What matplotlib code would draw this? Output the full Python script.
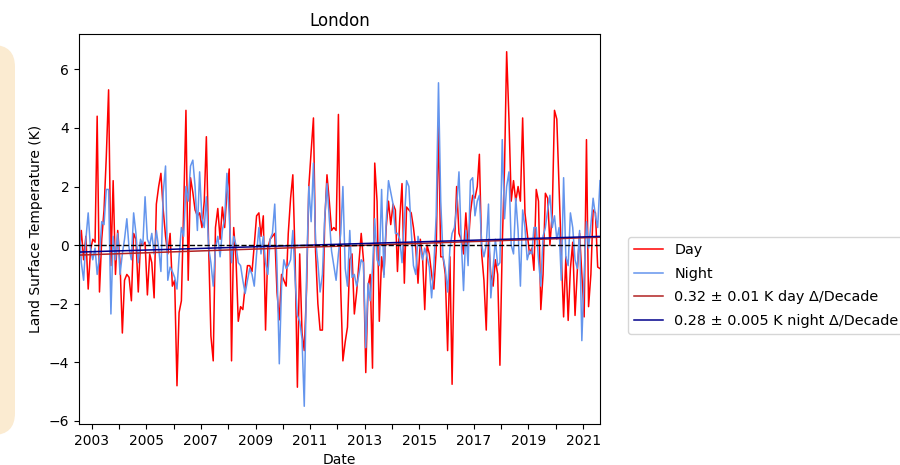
import numpy as np
import pandas as pd
import matplotlib
matplotlib.use("Agg")
import matplotlib.pyplot as plt
import matplotlib.dates as mdates
from matplotlib.patches import FancyBboxPatch

# Monthly land surface temperature anomalies (K), Jul 2002 - Aug 2021
start_month = "2002-07-01"
n_months = 230

day_anom = [
    -0.4, 0.5, -0.5, 0.3, -1.5, -0.2, 0.2, 0.1, 4.4, -1.6,
    0.2, 1.2, 3.0, 5.3, -0.7, 2.2, -1.0, 0.5, -0.6, -3.0,
    -1.2, -1.0, -1.1, -1.9, 0.4, 0.2, -1.6, 0.1, 0.0, 0.1,
    -1.7, -0.3, -0.6, -1.8, 1.4, 2.0, 2.45, 1.2, 0.3, -0.3,
    0.4, -1.4, -1.2, -4.8, -2.3, -1.9, 1.2, 4.6, -1.2, 2.3,
    1.8, 1.2, 1.0, 1.1, 0.6, 1.5, 3.7, -0.1, -3.1, -3.95,
    0.6, 1.25, 0.2, 1.3, 0.6, 1.8, 2.6, -3.95, 0.6, -0.5,
    -2.6, -2.1, -2.2, -1.4, -0.7, -0.7, -0.9, 0.0, 1.0, 1.1,
    0.3, 1.0, -2.9, -0.1, 0.2, 0.3, 0.4, -1.6, -2.55, -1.0,
    -1.2, -1.4, 0.4, 1.6, 2.4, -0.5, -4.85, -0.3, -3.0, -3.6,
    -1.5, 2.0, 3.2, 4.34, -0.2, -2.0, -2.9, -2.9, 0.74, 2.4,
    1.5, 0.5, 0.6, 0.5, 4.46, -1.5, -3.95, -3.3, -2.8, -0.5,
    -0.3, -2.35, -1.6, -0.6, 0.4, -0.5, -4.35, -1.4, -1.0, -4.2,
    2.8, 1.5, -2.6, -0.4, -1.0, 0.6, 1.5, 0.7, 1.4, 1.2,
    -0.9, 0.9, 2.1, -1.3, 1.3, 1.2, 1.1, 0.6, -0.1, -1.3,
    0.2, -0.5, -2.2, 0.0, -0.3, -1.0, -1.5, -0.2, 4.17, -0.4,
    -0.4, -1.0, -3.6, -0.4, -4.75, -0.1, 2.0, 0.4, 0.2, -0.3,
    1.1, -0.1, 1.1, 1.7, 1.6, 2.0, 3.1, -0.3, -1.2, -2.9,
    0.2, -1.0, -1.4, -0.5, -1.0, -4.1, 0.0, 2.7, 6.6, 4.3,
    1.5, 2.2, 1.5, 2.0, 1.5, 4.34, 1.1, 0.4, -0.3, -0.1,
    -0.86, 1.9, 1.5, -2.2, -1.0, 1.77, 1.6, 0.0, 1.1, 4.6,
    4.3, 1.9, -0.3, -2.45, -0.4, -2.57, -0.8, 0.1, -2.4, -0.9,
    0.4, -1.0, -2.45, 3.6, -2.1, -1.0, 1.2, 1.1, -0.75, -0.8,
]

night_anom = [
    1.0, -0.6, -1.2, 0.2, 1.1, -0.1, -0.5, -0.1, -1.0, -0.4,
    0.8, 0.7, 1.9, 1.9, -2.35, 0.3, -0.5, 0.4, -1.0, -0.3,
    0.2, 0.9, -0.1, -0.5, 1.1, 0.4, -0.6, 0.2, 0.0, 1.65,
    0.2, 0.0, 0.4, -0.3, 0.5, -0.1, -0.9, 1.8, 2.7, -1.2,
    -0.75, -0.9, -1.1, -1.5, -0.4, 0.6, 0.3, 2.0, 1.5, 2.7,
    2.9, 2.0, 0.5, 2.5, 0.9, 0.6, 1.65, -0.1, -0.6, -1.4,
    -0.1, 0.3, -0.4, 0.5, 0.9, 2.45, 1.0, -0.6, 0.3, 0.0,
    -0.6, -0.7, -1.2, -1.65, -1.2, -0.8, -1.0, -1.4, -0.3, 0.6,
    -0.3, 0.3, -0.6, -1.0, 0.2, 0.4, 1.4, -0.7, -4.05, -1.4,
    -0.5, -0.8, -0.7, -0.5, 0.5, -1.2, -2.4, -2.6, -3.2, -5.5,
    -1.0, 2.0, 0.8, 2.8, 0.2, -0.6, -1.6, -1.0, 0.9, 2.1,
    0.9, -0.2, -0.7, -1.2, -0.3, 0.4, 2.0, -0.8, -1.4, 0.5,
    -1.1, -1.0, -1.4, -1.0, -0.5, -0.6, -3.5, -1.3, -1.9, -0.8,
    0.9, -0.5, -0.7, 1.9, -1.1, 0.8, 2.2, 1.8, 1.4, 0.4,
    0.4, 0.2, -0.6, 0.8, 2.2, 2.0, 0.5, -0.7, -1.0, 0.3,
    -0.1, -0.5, -0.1, -0.4, -0.75, -1.8, -0.7, 1.0, 5.54, 1.5,
    -0.4, -0.8, -1.6, -0.1, 0.4, 0.6, 1.3, 2.5, 0.2, -1.55,
    0.5, -0.7, 2.2, 2.3, 1.0, 1.5, 1.7, 0.0, -0.4, 0.0,
    1.4, -1.8, -0.8, 0.2, -0.7, -0.6, 3.6, 0.9, 2.0, 2.5,
    0.0, -0.3, 1.6, 0.5, -1.4, 1.2, 0.6, -0.5, -0.2, -0.3,
    0.6, 0.6, -0.5, -1.4, 0.3, 0.6, 1.2, 1.7, 0.6, 1.0,
    0.2, 0.6, -1.2, 2.3, -0.4, -0.7, 1.1, 0.6, -0.5, -0.8,
    0.5, -3.26, -1.0, 0.8, -0.1, 0.7, 1.6, 1.0, 0.6, 2.2,
]

# Linear trends (K per decade) and trend value at the middle of the record
day_trend_per_decade = 0.32
night_trend_per_decade = 0.28
day_trend_mid = -0.035
night_trend_mid = 0.03

labels = ["Day", "Night",
          "0.32 \u00b1 0.01 K day \u0394/Decade",
          "0.28 \u00b1 0.005 K night \u0394/Decade"]

dates = pd.date_range(start_month, periods=n_months, freq="MS") + pd.Timedelta(days=14)
t_num = mdates.date2num(dates)
t_years = (t_num - t_num.mean()) / 365.25
day_trend = day_trend_mid + day_trend_per_decade / 10 * t_years
night_trend = night_trend_mid + night_trend_per_decade / 10 * t_years

fig = plt.figure(figsize=(9, 4.65), dpi=100)

# Pale panel on the left edge of the page
panel = FancyBboxPatch((-0.4, 0.30), 0.55, 3.90,
                       boxstyle="round,pad=0,rounding_size=0.22",
                       transform=fig.dpi_scale_trans,
                       facecolor="#FBEBD1", edgecolor="none", zorder=0)
fig.patches.append(panel)

ax = fig.add_axes([79 / 900, 1 - 424 / 465, 521 / 900, 390 / 465])

l_day, = ax.plot(dates, day_anom, color="red", lw=1.1)
l_night, = ax.plot(dates, night_anom, color="cornflowerblue", lw=1.1)
l_dtr, = ax.plot(dates, day_trend, color="firebrick", lw=1.1)
l_ntr, = ax.plot(dates, night_trend, color="darkblue", lw=1.1)
ax.axhline(0, color="black", ls="--", lw=1.0)

ax.set_xlim(dates[0], dates[-1])
year_ticks = [pd.Timestamp(f"{y}-01-01") for y in range(2003, 2022)]
ax.set_xticks(year_ticks)
ax.set_xticklabels([str(d.year) if d.year % 2 == 1 else "" for d in year_ticks])
ax.set_yticks([-6, -4, -2, 0, 2, 4, 6])

ax.set_title("London")
ax.set_xlabel("Date")
ax.set_ylabel("Land Surface Temperature (K)")

fig.legend([l_day, l_night, l_dtr, l_ntr], labels,
           loc="upper left", bbox_to_anchor=(628 / 900, 1 - 237 / 465),
           bbox_transform=fig.transFigure, borderaxespad=0,
           fontsize=10.4, labelspacing=0.68)

fig.savefig("out.png", dpi=100)
